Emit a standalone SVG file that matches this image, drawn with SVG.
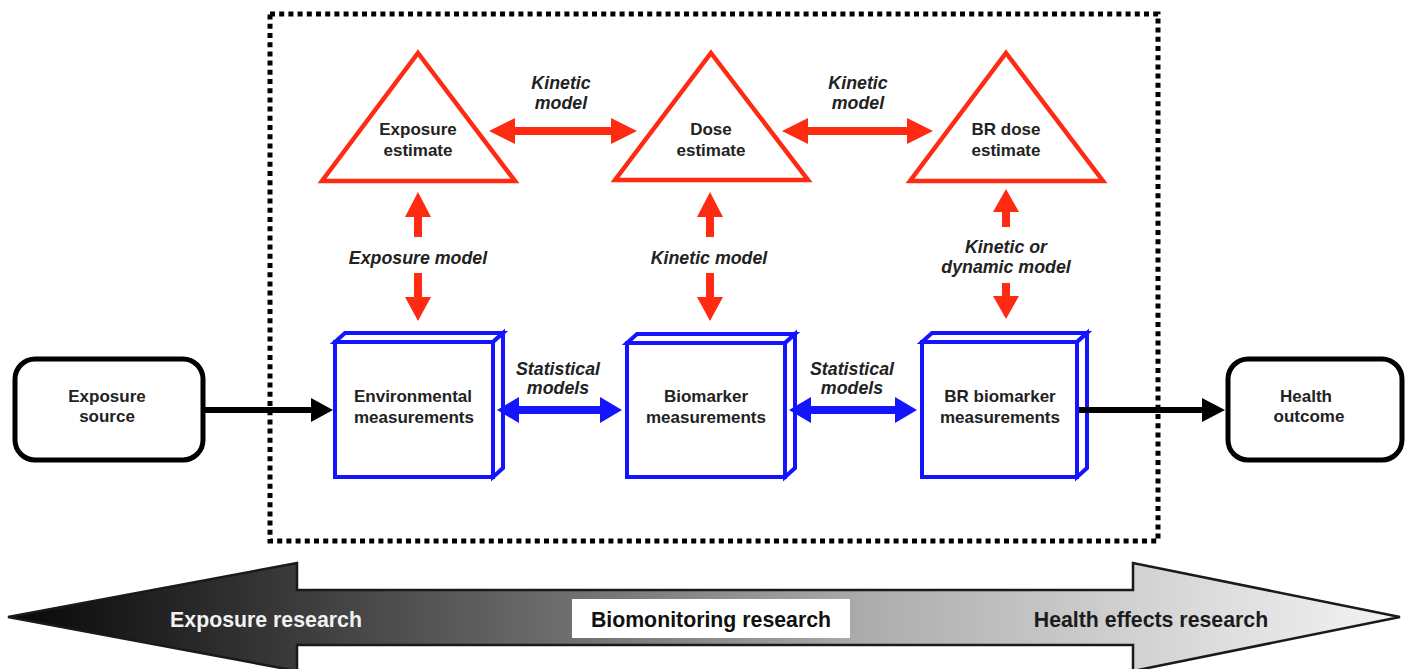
<svg xmlns="http://www.w3.org/2000/svg" width="1406" height="669" viewBox="0 0 1406 669">
  <defs>
    <linearGradient id="bandFill" x1="0" y1="0" x2="1406" y2="0" gradientUnits="userSpaceOnUse">
      <stop offset="0" stop-color="#050505"/>
      <stop offset="0.18" stop-color="#333"/>
      <stop offset="0.42" stop-color="#737373"/>
      <stop offset="0.62" stop-color="#adadad"/>
      <stop offset="0.85" stop-color="#dadada"/>
      <stop offset="1" stop-color="#f4f4f4"/>
    </linearGradient>
    <style>
      .lbl { font-family: "Liberation Sans", Arial, sans-serif; font-weight: bold; font-size: 17px; fill: #222; text-anchor: middle; }
      .ital { font-style: italic; font-size: 17.8px; }
      .band { font-family: "Liberation Sans", Arial, sans-serif; font-weight: bold; font-size: 21.3px; text-anchor: middle; }
      .tri { fill: #fff; stroke: #ff2a12; stroke-width: 4.5; stroke-linejoin: miter; }
      .box { fill: #fff; stroke: #1414ff; stroke-width: 4; stroke-linejoin: miter; }
      .term { fill: #fff; stroke: #000; stroke-width: 5; }
      .red { fill: #ff2a12; }
      .blue { fill: #1414ff; }
      .blk { fill: #000; }
    </style>
  </defs>

  <rect width="1406" height="669" fill="#fff"/>

  <!-- dotted boundary of the biomonitoring domain -->
  <rect x="270" y="14" width="888" height="527" fill="none" stroke="#000" stroke-width="5" stroke-dasharray="5 4.2"/>

  <!-- research continuum band -->
  <g id="continuum">
    <polygon points="8,617 297,563 297,590 1133,590 1133,563 1400,617 1133,671 1133,645 297,645 297,671" fill="url(#bandFill)" stroke="#1a1a1a" stroke-width="2.5" stroke-linejoin="miter"/>
    <text class="band" x="266" y="627" fill="#f2f2f2">Exposure research</text>
    <rect x="572" y="599" width="278" height="39" fill="#fff"/>
    <text class="band" x="711" y="627" fill="#111">Biomonitoring research</text>
    <text class="band" x="1151" y="627" fill="#1c1c1c">Health effects research</text>
  </g>

  <!-- estimate nodes -->
  <g id="exposure-estimate">
    <polygon class="tri" points="418,53 515,181 322,181"/>
    <text class="lbl" x="418" y="135">Exposure</text>
    <text class="lbl" x="418" y="156">estimate</text>
  </g>
  <g id="dose-estimate">
    <polygon class="tri" points="711,53 808,180 615,180"/>
    <text class="lbl" x="711" y="135">Dose</text>
    <text class="lbl" x="711" y="156">estimate</text>
  </g>
  <g id="br-dose-estimate">
    <polygon class="tri" points="1006,53 1103,181 910,181"/>
    <text class="lbl" x="1006" y="135">BR dose</text>
    <text class="lbl" x="1006" y="156">estimate</text>
  </g>

  <!-- measurement nodes (3D boxes) -->
  <g id="environmental-measurements">
    <polygon class="box" points="335,342 345,333 503,333 493,342"/>
    <polygon class="box" points="493,342 503,333 503,468 493,477"/>
    <rect class="box" x="335" y="342" width="158" height="135"/>
    <text class="lbl" x="413" y="402">Environmental</text>
    <text class="lbl" x="414" y="423">measurements</text>
  </g>
  <g id="biomarker-measurements">
    <polygon class="box" points="627,343 637,334 795,334 785,343"/>
    <polygon class="box" points="785,343 795,334 795,468 785,477"/>
    <rect class="box" x="627" y="343" width="158" height="134"/>
    <text class="lbl" x="706" y="402">Biomarker</text>
    <text class="lbl" x="706" y="423">measurements</text>
  </g>
  <g id="br-biomarker-measurements">
    <polygon class="box" points="922,342 932,333 1087,333 1077,342"/>
    <polygon class="box" points="1077,342 1087,333 1087,468 1077,477"/>
    <rect class="box" x="922" y="342" width="155" height="135"/>
    <text class="lbl" x="1000" y="402">BR biomarker</text>
    <text class="lbl" x="1000" y="423">measurements</text>
  </g>

  <!-- terminal nodes -->
  <g id="exposure-source">
    <rect class="term" x="15" y="359" width="188" height="101" rx="20"/>
    <text class="lbl" x="107" y="402">Exposure</text>
    <text class="lbl" x="107" y="422">source</text>
  </g>
  <g id="health-outcome">
    <rect class="term" x="1228" y="359" width="174" height="101" rx="20"/>
    <text class="lbl" x="1306" y="402">Health</text>
    <text class="lbl" x="1309" y="422">outcome</text>
  </g>

  <!-- connectors -->
  <g id="connectors">
    <!-- kinetic models between estimates -->
    <polygon class="red" points="489,131 515,118 515,127 611,127 611,118 637,131 611,144 611,135 515,135 515,144"/>
    <polygon class="red" points="782,131 808,118 808,127 907,127 907,118 933,131 907,144 907,135 808,135 808,144"/>

    <!-- vertical models: measurements to estimates -->
    <polygon class="red" points="418,192 431,217 422,217 422,237 414,237 414,217 405,217"/>
    <polygon class="red" points="418,321 431,297 422,297 422,273 414,273 414,297 405,297"/>
    <polygon class="red" points="710,192 723,217 714,217 714,237 706,237 706,217 697,217"/>
    <polygon class="red" points="710,321 723,297 714,297 714,273 706,273 706,297 697,297"/>
    <polygon class="red" points="1006,189 1019,212 1010,212 1010,227 1002,227 1002,212 993,212"/>
    <polygon class="red" points="1006,319 1019,296 1010,296 1010,283 1002,283 1002,296 993,296"/>

    <!-- statistical models between measurements -->
    <polygon class="blue" points="497,410 519,397 519,406 600,406 600,397 622,410 600,423 600,414 519,414 519,423"/>
    <polygon class="blue" points="789,410 811,397 811,406 895,406 895,397 917,410 895,423 895,414 811,414 811,423"/>

    <!-- source and outcome flows -->
    <polygon class="blk" points="203,407 311,407 311,398 333,410 311,422 311,413 203,413"/>
    <polygon class="blk" points="1079,407 1202,407 1202,398 1225,410 1202,422 1202,413 1079,413"/>

    <!-- connector labels -->
    <text class="lbl ital" x="561" y="89">Kinetic</text>
    <text class="lbl ital" x="561" y="109">model</text>
    <text class="lbl ital" x="858" y="89">Kinetic</text>
    <text class="lbl ital" x="858" y="109">model</text>
    <text class="lbl ital" x="418" y="264">Exposure model</text>
    <text class="lbl ital" x="709" y="264">Kinetic model</text>
    <text class="lbl ital" x="1006" y="253">Kinetic or</text>
    <text class="lbl ital" x="1006" y="273">dynamic model</text>
    <text class="lbl ital" x="558" y="375">Statistical</text>
    <text class="lbl ital" x="558" y="394">models</text>
    <text class="lbl ital" x="852" y="375">Statistical</text>
    <text class="lbl ital" x="852" y="394">models</text>
  </g>
</svg>
